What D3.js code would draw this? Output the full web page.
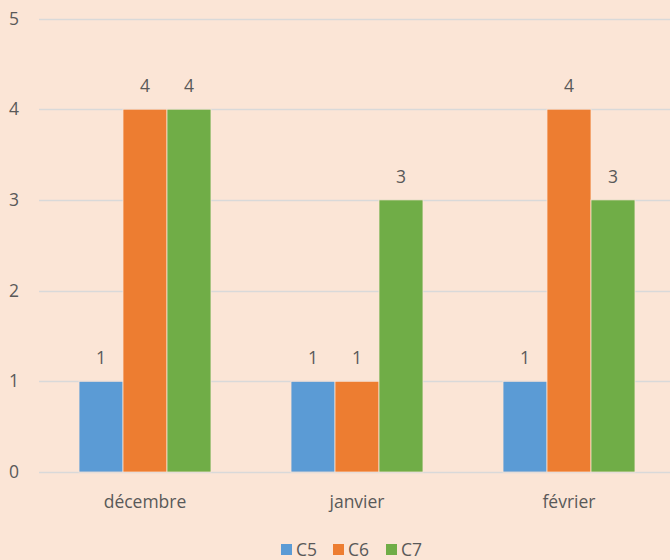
<!DOCTYPE html>
<html>
<head>
<meta charset="utf-8">
<script src="https://cdn.jsdelivr.net/npm/d3@7"></script>
<style>
  body { margin: 0; background: #fbe5d6; }
  text { font-family: "Open Sans", "Liberation Sans", sans-serif; fill: #595959; }
</style>
</head>
<body>
<div id="chart"></div>
<script>
var categories = ['décembre', 'janvier', 'février'];
var seriesNames = ['C5', 'C6', 'C7'];
var c5 = [1, 1, 1];
var c6 = [4, 1, 4];
var c7 = [4, 3, 3];
var yTicks = [0, 1, 2, 3, 4, 5];
var colors = ['#5b9bd5', '#ed7d31', '#70ad47'];

var width = 670, height = 560;
var values = [c5, c6, c7];
var fs = '17.5px';

var svg = d3.select('#chart')
  .append('svg')
    .attr('width', width)
    .attr('height', height);

svg.append('rect')
  .attr('width', width)
  .attr('height', height)
  .attr('fill', '#fbe5d6');

var y = d3.scaleLinear().domain([0, 5]).range([472, 18.5]);
var x0 = d3.scaleBand().domain(categories).range([39, 675]);
var x1 = d3.scaleBand().domain(seriesNames)
  .range([0, x0.bandwidth()])
  .paddingInner(0)
  .paddingOuter(0.91);

// gridlines
svg.selectAll('line.grid')
  .data(yTicks)
  .enter().append('line')
    .attr('x1', 39)
    .attr('x2', width)
    .attr('y1', function (d) { return Math.round(y(d)) + 0.5; })
    .attr('y2', function (d) { return Math.round(y(d)) + 0.5; })
    .attr('stroke', '#d9d9d9')
    .attr('stroke-width', 1.5);

svg.selectAll('text.ytick')
  .data(yTicks)
  .enter().append('text')
    .attr('x', 14)
    .attr('y', function (d) { return y(d); })
    .attr('dy', '0.35em')
    .attr('text-anchor', 'middle')
    .style('font-size', fs)
    .text(function (d) { return d; });

// bars
var rows = [];
categories.forEach(function (c, i) {
  seriesNames.forEach(function (s, j) {
    rows.push({ cat: c, series: s, value: values[j][i], color: colors[j] });
  });
});

svg.selectAll('rect.bar')
  .data(rows)
  .enter().append('rect')
    .attr('x', function (d) { return x0(d.cat) + x1(d.series); })
    .attr('y', function (d) { return y(d.value); })
    .attr('width', x1.bandwidth())
    .attr('height', function (d) { return y(0) - y(d.value); })
    .attr('fill', function (d) { return d.color; })
    .attr('stroke', '#fbe5d6')
    .attr('stroke-width', 0.75);

svg.selectAll('text.val')
  .data(rows)
  .enter().append('text')
    .attr('x', function (d) { return x0(d.cat) + x1(d.series) + x1.bandwidth() / 2; })
    .attr('y', function (d) { return y(d.value) - 17; })
    .attr('text-anchor', 'middle')
    .style('font-size', fs)
    .text(function (d) { return d.value; });

// x axis labels
svg.selectAll('text.xcat')
  .data(categories)
  .enter().append('text')
    .attr('x', function (d) { return x0(d) + x0.bandwidth() / 2; })
    .attr('y', 508)
    .attr('text-anchor', 'middle')
    .style('font-size', fs)
    .text(function (d) { return d; });

// legend
var legendX = [281, 333, 386];
var lg = svg.selectAll('g.legend')
  .data(seriesNames)
  .enter().append('g')
    .attr('transform', function (d, i) { return 'translate(' + legendX[i] + ',544)'; });
lg.append('rect')
  .attr('width', 11)
  .attr('height', 11)
  .attr('fill', function (d, i) { return colors[i]; });
lg.append('text')
  .attr('x', 15)
  .attr('y', 5.5)
  .attr('dy', '0.35em')
  .style('font-size', fs)
  .text(function (d) { return d; });
</script>
</body>
</html>
